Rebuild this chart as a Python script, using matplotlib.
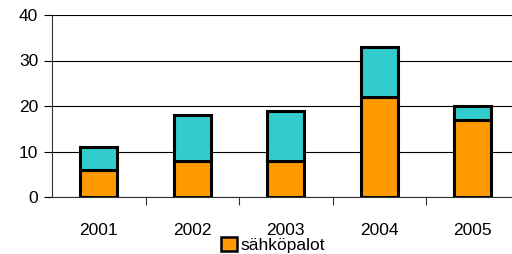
import numpy as np
import matplotlib
matplotlib.use("Agg")
import matplotlib.pyplot as plt
from matplotlib.patches import Patch

plt.rcParams["font.family"] = ["Liberation Sans", "DejaVu Sans"]

years = ["2001", "2002", "2003", "2004", "2005"]
sahkopalot = [6, 8, 8, 22, 17]
muut = [5, 10, 11, 11, 3]

ORANGE = "#FF9900"
TEAL = "#33CCCC"

fig = plt.figure(figsize=(5.12, 2.54), dpi=100)
ax = fig.add_axes([52 / 512, 57 / 254, 467.5 / 512, 182 / 254])

x = np.arange(len(years))
ax.bar(x, sahkopalot, width=0.4, color=ORANGE, edgecolor="black", linewidth=2.2, zorder=3)
ax.bar(x, muut, width=0.4, bottom=sahkopalot, color=TEAL, edgecolor="black", linewidth=2.2, zorder=3)

ax.set_xlim(-0.5, len(years) - 0.5)
ax.set_ylim(0, 40)
ax.set_yticks([0, 10, 20, 30, 40])
ax.set_xticks(x)
ax.set_xticklabels(years)
ax.set_xticks(np.arange(len(years)) + 0.5, minor=True)
ax.tick_params(axis="x", which="major", length=0, pad=19, labelsize=12.5)
ax.tick_params(axis="x", which="minor", length=6, width=0.8, color="#333333")
ax.tick_params(axis="y", length=6, width=0.8, labelsize=12.5, pad=4)
ax.yaxis.grid(True, color="black", linewidth=0.8, zorder=0)
for s in ["top", "right"]:
    ax.spines[s].set_visible(False)
ax.spines["left"].set_color("#333333")
ax.spines["bottom"].set_color("#333333")

fig.legend(handles=[Patch(facecolor=ORANGE, edgecolor="black", linewidth=1.8)],
           labels=["sähköpalot"], loc="center", bbox_to_anchor=(273 / 512, 1 - 245 / 254),
           frameon=False, fontsize=12.5, handlelength=0.9, handleheight=0.9,
           handletextpad=0.2, borderpad=0)

fig.savefig("out.png", dpi=100)
